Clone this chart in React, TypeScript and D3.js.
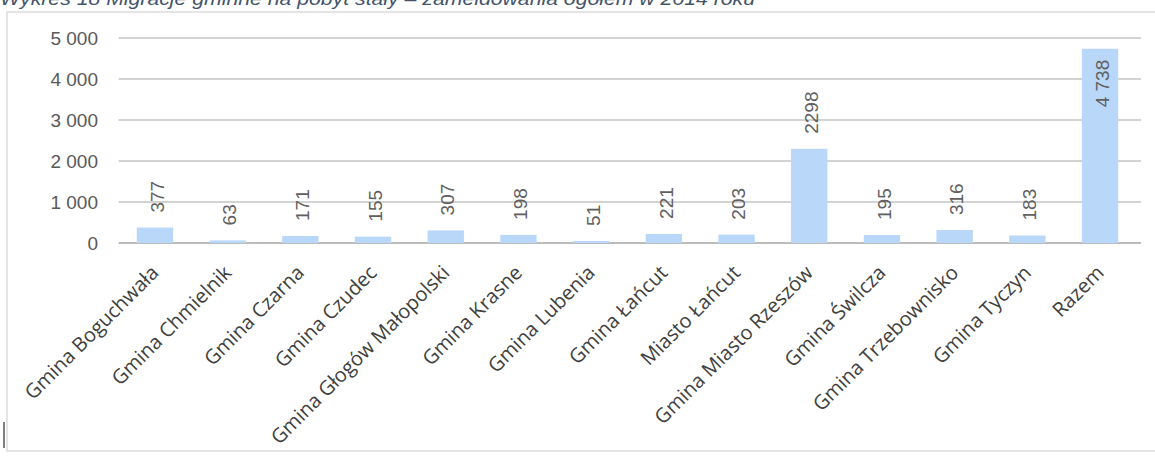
import React from "react";
import * as d3 from "d3";

const title = "Wykres 18 Migracje gminne na pobyt stały – zameldowania ogółem w 2014 roku";
const categories = [
  "Gmina Boguchwała",
  "Gmina Chmielnik",
  "Gmina Czarna",
  "Gmina Czudec",
  "Gmina Głogów Małopolski",
  "Gmina Krasne",
  "Gmina Lubenia",
  "Gmina Łańcut",
  "Miasto Łańcut",
  "Gmina Miasto Rzeszów",
  "Gmina Świlcza",
  "Gmina Trzebownisko",
  "Gmina Tyczyn",
  "Razem",
];
const values = [377, 63, 171, 155, 307, 198, 51, 221, 203, 2298, 195, 316, 183, 4738];
const valueLabels = ["377", "63", "171", "155", "307", "198", "51", "221", "203", "2298", "195", "316", "183", "4 738"];
const yTicks = [0, 1000, 2000, 3000, 4000, 5000];
const yTickLabels = ["0", "1 000", "2 000", "3 000", "4 000", "5 000"];

const W = 1155;
const H = 459;
const left = 118.6;
const right = 1136.4;
const y0 = 243;
const yTop = 38;

export default function App() {
  const x = d3.scaleBand<string>().domain(categories).range([left, right]).paddingInner(0.5).paddingOuter(0.25);
  const y = d3.scaleLinear().domain([0, 5000]).range([y0, yTop]);
  const bw = x.bandwidth();
  const numFont = "'Liberation Sans', Arial, sans-serif";
  return (
    <svg width={W} height={H} style={{ position: "absolute", left: 0, top: 0, background: "#fff" }}>
      <rect x={7} y={12} width={W + 20} height={439} fill="none" stroke="#dcdcdc" strokeWidth={1.5} />
      <line x1={4} x2={4} y1={422} y2={448} stroke="#555" strokeWidth={1.5} />
      <text x={0} y={5} fontFamily={numFont} fontStyle="italic" fontSize={19} fill="#44546a" textLength={755} lengthAdjust="spacingAndGlyphs">
        {title}
      </text>
      {yTicks.map((t, i) => (
        <g key={t}>
          <line x1={left} x2={1141} y1={y(t)} y2={y(t)} stroke={t === 0 ? "#a6a6a6" : "#c4c4c4"} strokeWidth={t === 0 ? 1.5 : 1.3} />
          <text x={98} y={y(t)} dy="0.35em" textAnchor="end" fontFamily={numFont} fontSize={19} fill="#595959">
            {yTickLabels[i]}
          </text>
        </g>
      ))}
      {categories.map((c, i) => {
        const cx = (x(c) as number) + bw / 2;
        const top = y(values[i]);
        const inside = i === categories.length - 1;
        const ly = inside ? top + 11 : top - 15;
        return (
          <g key={c}>
            <rect x={x(c)} y={top} width={bw} height={y0 - top} fill="#b9d7f9" />
            <text
              transform={`translate(${cx + 2},${ly}) rotate(-90)`}
              dy="0.35em"
              textAnchor={inside ? "end" : "start"}
              fontFamily={numFont}
              fontSize={19}
              fill="#606060"
            >
              {valueLabels[i]}
            </text>
            <text
              transform={`translate(${cx + 5},${274}) rotate(-45)`}
              textAnchor="end"
              fontFamily="'Open Sans', sans-serif"
              fontSize={20}
              fill="#404040"
            >
              {c}
            </text>
          </g>
        );
      })}
    </svg>
  );
}
